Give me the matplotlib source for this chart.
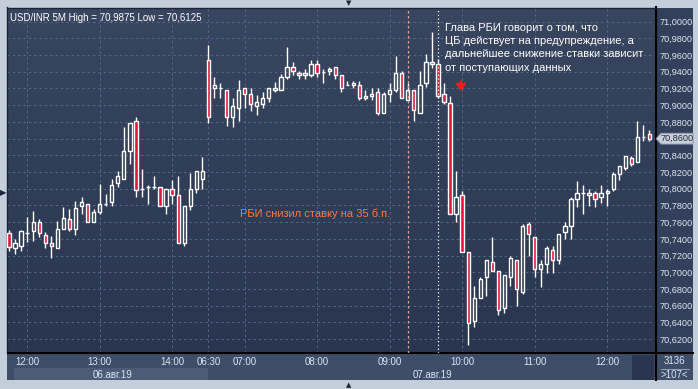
import numpy as np
import matplotlib.pyplot as plt
from matplotlib import transforms
from matplotlib.colors import LinearSegmentedColormap
from matplotlib.patches import Rectangle, Polygon
from matplotlib.lines import Line2D

plt.rcParams['font.family'] = ['Liberation Sans', 'DejaVu Sans']

# USD/INR 5M candles, 06.08.19 11:45 .. 14:25 and 07.08.19 06:30 .. 12:35
opens = [70.7470, 70.7296, 70.7312, 70.7468, 70.7492, 70.7604, 70.7448, 70.7352, 70.7292, 70.7520,
         70.7632, 70.7520, 70.7796, 70.7816, 70.7604, 70.7724, 70.7812, 70.7844, 70.8072, 70.8116,
         70.8456, 70.8804, 70.8000, 70.8024, 70.8024, 70.8024, 70.7796, 70.8000, 70.7928, 70.7352,
         70.7796, 70.8000, 70.8116,
         70.9540, 70.9200, 70.9200, 70.9180, 70.8856, 70.8960, 70.9204, 70.9132, 70.8988, 70.9016,
         70.9080, 70.9176, 70.9176, 70.9336, 70.9456, 70.9384, 70.9360, 70.9360, 70.9492, 70.9392,
         70.9408, 70.9456, 70.9360, 70.9240, 70.9264, 70.9240, 70.9080, 70.9104, 70.9156, 70.8904,
         70.9132, 70.9180, 70.9384, 70.9056, 70.9180, 70.8908, 70.9264, 70.9516, 70.9492, 70.9128,
         70.9028, 70.7700, 70.7928, 70.7244, 70.6416, 70.6692, 70.6948, 70.7124, 70.7020, 70.6568,
         70.6948, 70.7148, 70.6764, 70.7572, 70.7424, 70.7040, 70.7100, 70.7268, 70.7148, 70.7476,
         70.7548, 70.7880, 70.7952, 70.7952, 70.7952, 70.7904, 70.7952, 70.8000, 70.8180, 70.8252,
         70.8372, 70.8324, 70.8624, 70.8652]
highs = [70.7500, 70.7400, 70.7500, 70.7660, 70.7728, 70.7636, 70.7480, 70.7428, 70.7608, 70.7776,
         70.7756, 70.7848, 70.7896, 70.7816, 70.7756, 70.8056, 70.7932, 70.8120, 70.8208, 70.8740,
         70.8784, 70.8860, 70.8232, 70.8040, 70.8156, 70.8024, 70.8000, 70.8100, 70.8156, 70.7796,
         70.8184, 70.8208, 70.8376,
         70.9716, 70.9340, 70.9268, 70.9180, 70.9088, 70.9300, 70.9204, 70.9204, 70.9116, 70.9156,
         70.9204, 70.9272, 70.9368, 70.9692, 70.9516, 70.9412, 70.9432, 70.9544, 70.9544, 70.9432,
         70.9456, 70.9456, 70.9360, 70.9284, 70.9284, 70.9284, 70.9180, 70.9204, 70.9204, 70.9156,
         70.9264, 70.9592, 70.9408, 70.9264, 70.9180, 70.9408, 70.9616, 70.9875, 70.9552, 70.9260,
         70.9108, 70.8208, 70.7976, 70.7244, 70.6836, 70.6948, 70.7148, 70.7424, 70.7020, 70.6968,
         70.7196, 70.7148, 70.7572, 70.7604, 70.7424, 70.7148, 70.7316, 70.7316, 70.7452, 70.7604,
         70.7904, 70.8096, 70.8048, 70.8000, 70.7976, 70.8048, 70.8000, 70.8204, 70.8276, 70.8396,
         70.8396, 70.8808, 70.8760, 70.8700]
lows = [70.7260, 70.7220, 70.7260, 70.7360, 70.7380, 70.7420, 70.7288, 70.7168, 70.7292, 70.7520,
        70.7492, 70.7440, 70.7700, 70.7604, 70.7604, 70.7700, 70.7788, 70.7788, 70.8020, 70.8116,
        70.8292, 70.7900, 70.7900, 70.7812, 70.8000, 70.7796, 70.7696, 70.7820, 70.7352, 70.7316,
        70.7744, 70.7948, 70.8000,
        70.8784, 70.9080, 70.9080, 70.8756, 70.8736, 70.8808, 70.8960, 70.8928, 70.8880, 70.8960,
        70.9032, 70.9152, 70.9176, 70.9312, 70.9360, 70.9312, 70.9312, 70.9336, 70.9336, 70.9264,
        70.9360, 70.9312, 70.9152, 70.9240, 70.9204, 70.9056, 70.9056, 70.9056, 70.8880, 70.8904,
        70.9032, 70.9156, 70.9084, 70.9056, 70.8808, 70.8908, 70.9216, 70.9440, 70.9090, 70.9008,
        70.7700, 70.7604, 70.7244, 70.6125, 70.6340, 70.6692, 70.6716, 70.7020, 70.6488, 70.6512,
        70.6832, 70.6592, 70.6740, 70.7196, 70.6940, 70.6820, 70.6992, 70.6992, 70.7100, 70.7400,
        70.7400, 70.7776, 70.7700, 70.7792, 70.7776, 70.7832, 70.7792, 70.7976, 70.8108, 70.8228,
        70.8276, 70.8324, 70.8576, 70.8576]
closes = [70.7300, 70.7352, 70.7496, 70.7470, 70.7604, 70.7472, 70.7352, 70.7316, 70.7520, 70.7652,
          70.7520, 70.7772, 70.7844, 70.7604, 70.7724, 70.7816, 70.7820, 70.8048, 70.8156, 70.8456,
          70.8784, 70.7980, 70.8000, 70.8024, 70.8024, 70.7796, 70.8000, 70.7928, 70.7352, 70.7796,
          70.8000, 70.8208, 70.8208,
          70.8856, 70.9240, 70.9200, 70.8856, 70.8988, 70.9180, 70.9128, 70.9016, 70.9040, 70.9084,
          70.9204, 70.9204, 70.9336, 70.9456, 70.9408, 70.9364, 70.9384, 70.9492, 70.9384, 70.9392,
          70.9432, 70.9360, 70.9204, 70.9240, 70.9240, 70.9084, 70.9108, 70.9132, 70.8904, 70.9132,
          70.9180, 70.9384, 70.9084, 70.9180, 70.8936, 70.9240, 70.9516, 70.9492, 70.9108, 70.9032,
          70.7700, 70.7904, 70.7244, 70.6392, 70.6692, 70.6920, 70.7148, 70.7020, 70.6548, 70.6968,
          70.7172, 70.6796, 70.7548, 70.7452, 70.7040, 70.7100, 70.7292, 70.7148, 70.7452, 70.7548,
          70.7880, 70.7952, 70.7952, 70.7928, 70.7880, 70.7952, 70.7976, 70.8180, 70.8276, 70.8396,
          70.8300, 70.8624, 70.8624, 70.8600]

tick_pos = [3, 15, 27, 33, 39, 51, 63, 75, 87, 99]
tick_labels = ['12:00', '13:00', '14:00', '06:30', '07:00', '08:00', '09:00', '10:00', '11:00', '12:00']
price_ticks = np.round(np.arange(70.62, 71.0001, 0.02), 2)
last_price = 70.86

W, H = 698, 389
fig = plt.figure(figsize=(W / 100, H / 100), dpi=100, facecolor='#c3cedb')


def box(x0, y0, x1, y1):
    # pixel box, top-left origin -> figure fraction rect
    return [x0 / W, 1 - y1 / H, (x1 - x0) / W, (y1 - y0) / H]


def frect(x0, y0, x1, y1, color, z=-1, **kw):
    l, b, w, h = box(x0, y0, x1, y1)
    fig.add_artist(Rectangle((l, b), w, h, transform=fig.transFigure,
                             facecolor=color, zorder=z, **kw))


def fline(xs, ys, color, lw, z=-0.5):
    fig.add_artist(Line2D([v / W for v in xs], [1 - v / H for v in ys],
                          transform=fig.transFigure, color=color, lw=lw, zorder=z))


# frame pieces around the chart
frect(655.5, 7.5, 693, 352.5, '#33405b')
frect(7.5, 352.5, 693, 380, '#3e4d68')
frect(14, 368, 208, 380, '#4c5c77', z=-0.8)
frect(632, 355, 654, 380, '#2a3550', z=-0.8)
fline([655.5, 655.5], [7.5, 380], 'black', 1.5)
fline([655.5, 693], [352.5, 352.5], 'black', 1.5)
fline([661, 689], [368.5, 368.5], '#8a9ab0', 0.8)

ax = fig.add_axes(box(7.5, 7.5, 655.5, 352.5))
x0, x1 = -0.25, 107.0
y0, y1 = 70.604, 71.0168
grad = np.linspace(0, 1, 256).reshape(-1, 1)
cmap = LinearSegmentedColormap.from_list('bg', ['#38465f', '#2a3650'])
ax.imshow(grad, cmap=cmap, extent=[x0, x1, y0, y1], aspect='auto', zorder=0)
ax.set_xlim(x0, x1)
ax.set_ylim(y0, y1)

ax.set_xticks(tick_pos)
ax.set_xticklabels(tick_labels)
ax.set_yticks(price_ticks)
ax.set_yticklabels([f'{v:.4f}'.replace('.', ',') for v in price_ticks])
ax.yaxis.tick_right()
ax.tick_params(axis='x', length=0, pad=3, labelsize=7, labelcolor='#dce6f2')
ax.tick_params(axis='y', length=0, pad=3, labelsize=6.6, labelcolor='#dce6f2')
ax.grid(True, color='#56658a', ls=(0, (2.5, 3)), lw=0.7, zorder=1)
for s in ['bottom', 'right']:
    ax.spines[s].set_color('black')
    ax.spines[s].set_linewidth(1.5)
for s in ['left', 'top']:
    ax.spines[s].set_color('#1c2438')
    ax.spines[s].set_linewidth(1)

# candles
o = np.array(opens); c = np.array(closes)
h = np.array(highs); l = np.array(lows)
xs = np.arange(len(o))
top = np.maximum(o, c)
bot = np.minimum(o, c)
up = c >= o
ax.vlines(xs, top, h, color='white', lw=1.0, zorder=3)
ax.vlines(xs, l, bot, color='white', lw=1.0, zorder=3)
ax.bar(xs, top - bot, bottom=bot, width=0.55,
       color=['none' if u else '#e2163c' for u in up],
       edgecolor='white', lw=1.0, zorder=3)

# event lines
ax.axvline(66, color='#e8a090', lw=0.9, ls=(0, (2, 2)), zorder=4)
ax.axvline(71, color='white', lw=0.9, ls=(0, (1, 2)), zorder=4)

# texts
ax.text(0.004, 0.97, 'USD/INR 5M High = 70,9875 Low = 70,6125', transform=ax.transAxes,
        fontsize=7, color='white', va='center', ha='left', zorder=5)
ax.text(72.2, 70.9988,
        'Глава РБИ говорит о том, что\nЦБ действует на предупреждение, а\n'
        'дальнейшее снижение ставки зависит\nот поступающих данных',
        fontsize=8, color='white', va='top', ha='left', linespacing=1.42, zorder=5)
ax.text(50.7, 70.7696, 'РБИ снизил ставку на 35 б.п.', fontsize=8, color='#ff7a3a',
        ha='center', va='center', zorder=5)
ax.annotate('', xy=(74.8, 70.9135), xytext=(74.8, 70.9315),
            arrowprops=dict(arrowstyle='->,head_length=0.35,head_width=0.25',
                            color='#ff1a1a', lw=2), zorder=5)

# day labels under time axis
tr = transforms.blended_transform_factory(ax.transData, ax.transAxes)
ax.text(17.2, -0.064, '06.авг.19', transform=tr, fontsize=7, color='#dce6f2',
        ha='center', va='center')
ax.text(70.0, -0.064, '07.авг.19', transform=tr, fontsize=7, color='#dce6f2',
        ha='center', va='center')

# last price tag
py = 22 + (71 - last_price) * 833.3
tag = [(656, py), (661, py - 5.5), (693, py - 5.5), (693, py + 5.5), (661, py + 5.5)]
fig.add_artist(Polygon([(px / W, 1 - qy / H) for px, qy in tag], closed=True,
                       transform=fig.transFigure, facecolor='#c9ced8',
                       edgecolor='#7f8aa0', lw=0.6, zorder=5))
fig.text(677 / W, 1 - py / H, f'{last_price:.4f}'.replace('.', ','), fontsize=6.6,
         color='#1e2a40', ha='center', va='center', zorder=6)

# bottom-right counters
fig.text(674 / W, 1 - 361 / H, '3136', fontsize=7, color='#dce6f2', ha='center', va='center')
fig.text(674 / W, 1 - 375 / H, '>107<', fontsize=7, color='#dce6f2', ha='center', va='center')

# little scroll markers on the outer frame
fig.text(349 / W, 1 - 3.5 / H, '▼', fontsize=5, color='#1c2438', ha='center', va='center',
         family='DejaVu Sans')
fig.text(349 / W, 1 - 385 / H, '▲', fontsize=5, color='#1c2438', ha='center', va='center',
         family='DejaVu Sans')
fig.text(3.5 / W, 1 - 193 / H, '▶', fontsize=6, color='#1c2438', ha='center', va='center',
         family='DejaVu Sans')

fig.savefig('out.png', dpi=100, facecolor=fig.get_facecolor())
